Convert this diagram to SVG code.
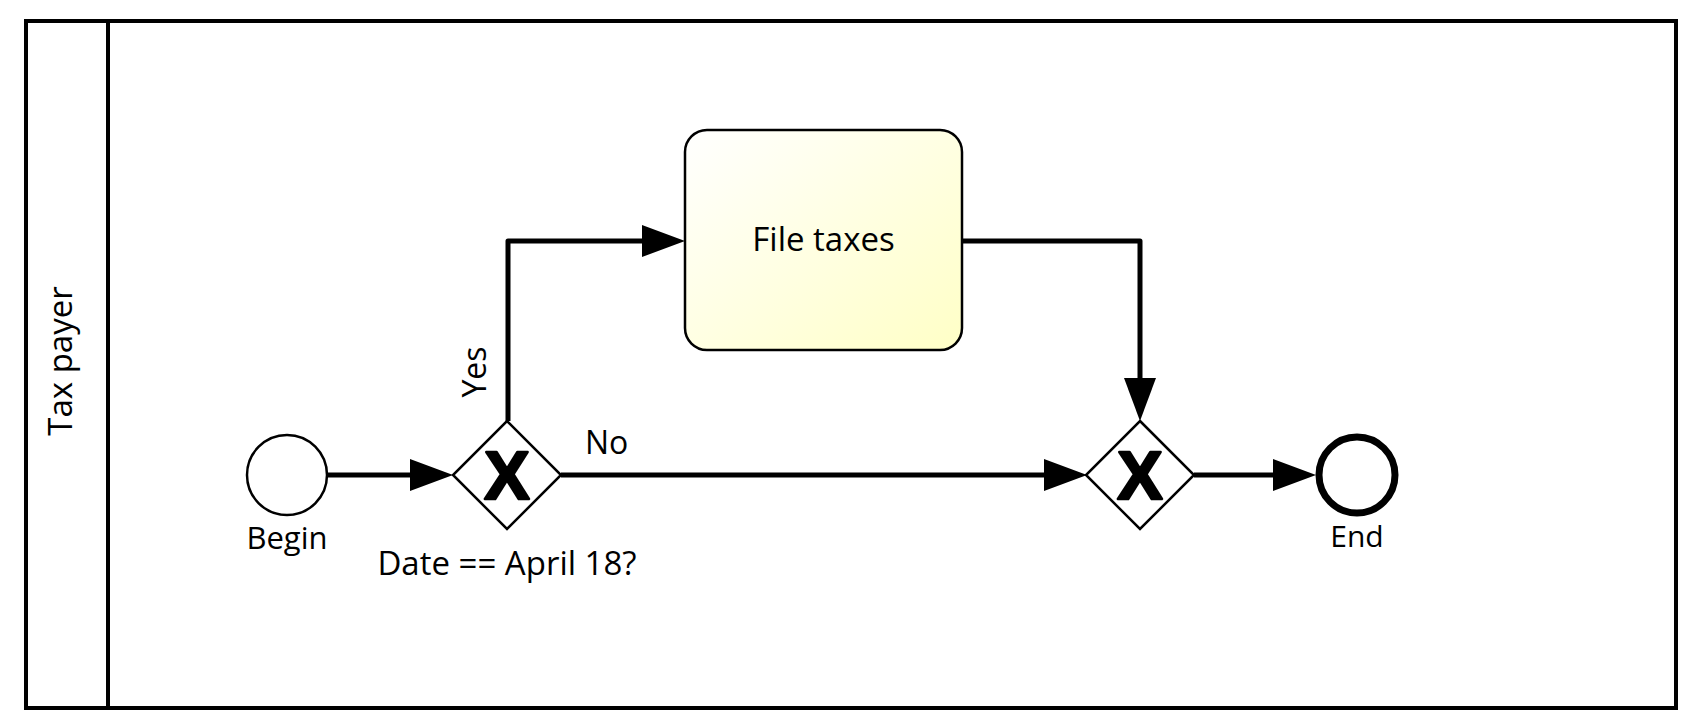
<svg xmlns="http://www.w3.org/2000/svg" width="1692" height="727" viewBox="0 0 1692 727">
<style>
.lbl{font-family:"Open Sans","Liberation Sans",sans-serif;font-size:33px;fill:#000}
.ev{font-size:31px}
.flow{fill:none;stroke:#000;stroke-width:5;stroke-linejoin:round}
.gw{fill:#fff;stroke:#000;stroke-width:2.5}
.gx{font-family:"Liberation Sans",Arial,sans-serif;font-weight:bold;font-size:68px;fill:#000;stroke:#000;stroke-width:2.5;stroke-linejoin:round}
</style>
<defs>
<marker id="arr" markerUnits="userSpaceOnUse" markerWidth="44" markerHeight="34" refX="0" refY="16" orient="auto" overflow="visible">
<path d="M0,0 L43,16 L0,32 Z" fill="#000"/>
</marker>
<linearGradient id="taskFill" x1="0" y1="0" x2="1" y2="1">
<stop offset="0" stop-color="#ffffff"/>
<stop offset="1" stop-color="#ffffc6"/>
</linearGradient>
</defs>
<rect width="1692" height="727" fill="#fff"/>
<g id="pool">
<rect x="26" y="21" width="1650" height="687" fill="none" stroke="#000" stroke-width="4"/>
<line x1="108" y1="21" x2="108" y2="708" stroke="#000" stroke-width="4"/>
<text class="lbl" transform="translate(72,361) rotate(-90)" text-anchor="middle">Tax payer</text>
</g>
<g id="connectors">
<path class="flow" d="M328,475 H410" marker-end="url(#arr)"/>
<path class="flow" d="M508,421 V241 H642" marker-end="url(#arr)"/>
<path class="flow" d="M561,475 H1044" marker-end="url(#arr)"/>
<path class="flow" d="M962,241 H1140 V378" marker-end="url(#arr)"/>
<path class="flow" d="M1194,475 H1273" marker-end="url(#arr)"/>
<text class="lbl" style="font-size:32px" transform="translate(486,372) rotate(-90)" text-anchor="middle">Yes</text>
<text class="lbl" style="font-size:32px" x="585" y="454">No</text>
</g>
<g id="begin">
<circle cx="287" cy="475" r="40" fill="#fff" stroke="#000" stroke-width="2.5"/>
<text class="lbl ev" x="287" y="549" text-anchor="middle">Begin</text>
</g>
<g id="gateway1">
<polygon class="gw" points="507,421 561,475 507,529 453,475"/>
<text class="gx" x="507" y="499" text-anchor="middle">X</text>
<text class="lbl" x="507" y="575" text-anchor="middle">Date == April 18?</text>
</g>
<g id="fileTaxes">
<rect x="685" y="130" width="277" height="220" rx="22" ry="22" fill="url(#taskFill)" stroke="#000" stroke-width="2.5"/>
<text class="lbl" x="823.5" y="251" text-anchor="middle">File taxes</text>
</g>
<g id="gateway2">
<polygon class="gw" points="1140,421 1194,475 1140,529 1086,475"/>
<text class="gx" x="1140" y="499" text-anchor="middle">X</text>
</g>
<g id="end">
<circle cx="1357" cy="475" r="38" fill="#fff" stroke="#000" stroke-width="7"/>
<text class="lbl" style="font-size:30px" x="1357" y="547" text-anchor="middle">End</text>
</g>
</svg>
